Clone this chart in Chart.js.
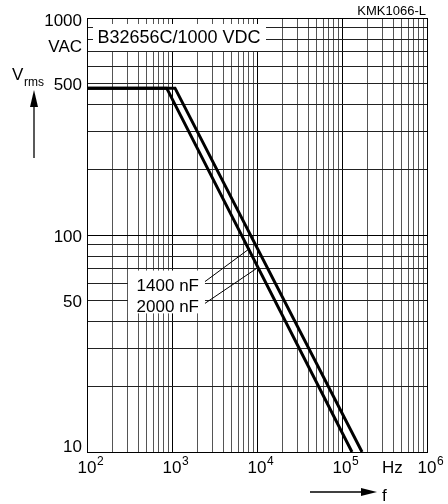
<!DOCTYPE html>
<html>
<head>
<meta charset="utf-8">
<script src="https://cdn.jsdelivr.net/npm/chart.js@4"></script>
<style>
  html, body { margin: 0; padding: 0; background: #fff; }
  canvas { display: block; }
</style>
</head>
<body>
<canvas id="chart" width="448" height="504"></canvas>
<script>
// curve data (frequency in Hz, voltage in V rms)
const freq2000 = [100, 866, 131000];
const volt2000 = [475, 475, 10];
const freq1400 = [100, 1085, 172000];
const volt1400 = [475, 475, 10];

// leader lines from the labels to the curves
const leader1400X = [2443, 8280];
const leader1400Y = [61, 86.9];
const leader2000X = [2443, 9910];
const leader2000Y = [48.4, 70.2];

// axis ticks
const xTickValues = [1e2, 1e3, 1e4, 1e5, 1e6];
const xTickExp = ['2', '3', '4', '5', '6'];
const yTickValues = [1000, 500, 100, 50, 10];
const yTickLabels = ['1000', '500', '100', '50', '10'];

const curveLabels = ['1400 nF', '2000 nF'];
const titleText = 'B32656C/1000 VDC';
const codeText = 'KMK1066-L';

const FONT = '"Liberation Sans", Arial, sans-serif';

// gridlines at 1..9 of each decade
function logGrid(min, max) {
  const out = [];
  for (let d = min; d < max; d *= 10) {
    for (let m = 1; m < 10; m++) out.push({ value: m * d });
  }
  out.push({ value: max });
  return out;
}

function pts(xs, ys) {
  return xs.map((x, i) => ({ x: x, y: ys[i] }));
}

function isDecade(v) {
  const l = Math.log10(v);
  return Math.abs(l - Math.round(l)) < 1e-9;
}

const decorPlugin = {
  id: 'decor',
  beforeDatasetsDraw(chart) {
    const ctx = chart.ctx;
    const a = chart.chartArea;
    const xs = chart.scales.x, ys = chart.scales.y;
    ctx.save();
    ctx.fillStyle = '#fff';
    // title box
    ctx.fillRect(a.left + 6, a.top + 6, 173, 27);
    // curve label box
    const lx = xs.getPixelForValue(leader1400X[0]);
    const ty = ys.getPixelForValue(leader1400Y[0]) - 11;
    const by = ys.getPixelForValue(leader2000Y[0]) + 10;
    ctx.fillRect(lx - 77, ty, 77, by - ty);
    ctx.restore();
  },
  afterDraw(chart) {
    const ctx = chart.ctx;
    const a = chart.chartArea;
    const xs = chart.scales.x, ys = chart.scales.y;
    ctx.save();
    ctx.fillStyle = '#000';
    ctx.strokeStyle = '#000';

    // title
    ctx.font = '18px ' + FONT;
    ctx.textAlign = 'center';
    ctx.textBaseline = 'middle';
    ctx.fillText(titleText, a.left + 92, a.top + 20);

    // code
    ctx.font = '13px ' + FONT;
    ctx.textAlign = 'right';
    ctx.textBaseline = 'alphabetic';
    ctx.fillText(codeText, a.right - 1, 15);

    // y tick labels
    ctx.font = '17px ' + FONT;
    ctx.textAlign = 'right';
    ctx.textBaseline = 'middle';
    yTickValues.forEach((v, i) => {
      let py = ys.getPixelForValue(v);
      py = Math.min(Math.max(py + 2, a.top + 3), a.bottom - 5);
      ctx.fillText(yTickLabels[i], a.left - 5, py);
    });
    ctx.fillText('VAC', a.left - 5, a.top + 29);

    // V rms label
    ctx.textAlign = 'left';
    ctx.textBaseline = 'alphabetic';
    ctx.font = '17px ' + FONT;
    ctx.fillText('V', 12, 80);
    ctx.font = '12px ' + FONT;
    ctx.fillText('rms', 24, 86);

    // up arrow
    ctx.lineWidth = 1.3;
    ctx.beginPath();
    ctx.moveTo(34, 158);
    ctx.lineTo(34, 100);
    ctx.stroke();
    ctx.beginPath();
    ctx.moveTo(34, 90);
    ctx.lineTo(30, 107);
    ctx.lineTo(38, 107);
    ctx.closePath();
    ctx.fill();

    // x tick labels
    xTickValues.forEach((v, i) => {
      const px = xs.getPixelForValue(v);
      ctx.font = '17px ' + FONT;
      ctx.textAlign = 'center';
      ctx.fillText('10', px, a.bottom + 21);
      ctx.font = '12px ' + FONT;
      ctx.textAlign = 'left';
      ctx.fillText(xTickExp[i], px + 10, a.bottom + 13);
    });
    ctx.font = '17px ' + FONT;
    ctx.textAlign = 'left';
    ctx.fillText('Hz', 382, a.bottom + 21);

    // f arrow
    ctx.beginPath();
    ctx.moveTo(310, 492);
    ctx.lineTo(364, 492);
    ctx.stroke();
    ctx.beginPath();
    ctx.moveTo(377, 492);
    ctx.lineTo(361, 488);
    ctx.lineTo(361, 496);
    ctx.closePath();
    ctx.fill();
    ctx.fillText('f', 382, 501);

    // curve labels
    ctx.font = '17px ' + FONT;
    ctx.textAlign = 'right';
    const lx = xs.getPixelForValue(leader1400X[0]);
    ctx.fillText(curveLabels[0], lx - 6, ys.getPixelForValue(leader1400Y[0]) + 9);
    ctx.fillText(curveLabels[1], lx - 6, ys.getPixelForValue(leader2000Y[0]) + 9);

    ctx.restore();
  }
};

const lineStyle = {
  showLine: true,
  borderColor: '#000',
  backgroundColor: '#000',
  pointRadius: 0,
  fill: false,
  tension: 0
};

new Chart(document.getElementById('chart').getContext('2d'), {
  type: 'scatter',
  data: {
    datasets: [
      Object.assign({ label: '2000 nF', data: pts(freq2000, volt2000), borderWidth: 3 }, lineStyle),
      Object.assign({ label: '1400 nF', data: pts(freq1400, volt1400), borderWidth: 3 }, lineStyle),
      Object.assign({ label: 'leader 1400', data: pts(leader1400X, leader1400Y), borderWidth: 1 }, lineStyle),
      Object.assign({ label: 'leader 2000', data: pts(leader2000X, leader2000Y), borderWidth: 1 }, lineStyle)
    ]
  },
  options: {
    responsive: false,
    animation: false,
    devicePixelRatio: 1,
    layout: { padding: { left: 87, right: 21, top: 18, bottom: 52 } },
    plugins: {
      legend: { display: false },
      tooltip: { enabled: false },
      title: { display: false }
    },
    scales: {
      x: {
        type: 'logarithmic',
        position: 'bottom',
        min: 100,
        max: 1e6,
        afterBuildTicks: (scale) => { scale.ticks = logGrid(100, 1e6); },
        ticks: { display: false },
        grid: {
          drawTicks: false,
          lineWidth: 1,
          color: (c) => (c.tick && isDecade(c.tick.value)) ? '#000' : '#555'
        },
        border: { display: true, color: '#000', width: 1 }
      },
      y: {
        type: 'logarithmic',
        position: 'left',
        min: 10,
        max: 1000,
        afterBuildTicks: (scale) => { scale.ticks = logGrid(10, 1000); },
        ticks: { display: false },
        grid: {
          drawTicks: false,
          lineWidth: 1,
          color: (c) => (c.tick && isDecade(c.tick.value)) ? '#000' : '#222'
        },
        border: { display: true, color: '#000', width: 1 }
      }
    }
  },
  plugins: [decorPlugin]
});
</script>
</body>
</html>
